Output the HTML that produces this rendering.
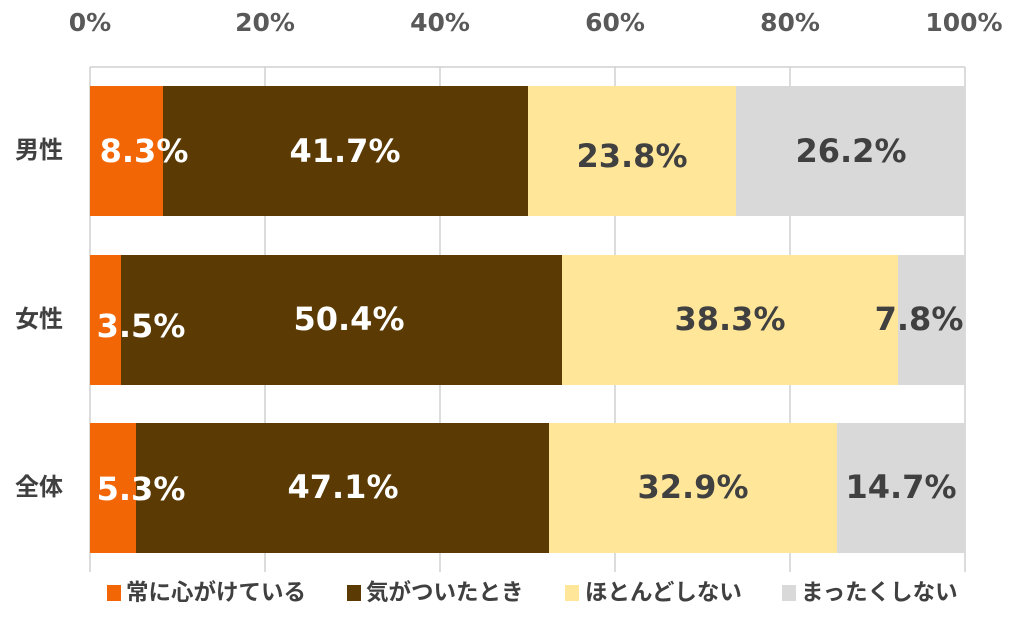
<!DOCTYPE html>
<html><head><meta charset="utf-8"><style>
html,body{margin:0;padding:0;background:#fff;}
svg{display:block;font-family:"DejaVu Sans","Noto Sans CJK JP",sans-serif;font-weight:bold;}
</style></head><body>
<svg width="1024" height="643" viewBox="0 0 1024 643">
<g stroke="#d0d0d0" stroke-width="1.5">
<line x1="90" y1="67" x2="965" y2="67"/>
<line x1="90" y1="67" x2="90" y2="572"/>
<line x1="265" y1="67" x2="265" y2="572"/>
<line x1="440" y1="67" x2="440" y2="572"/>
<line x1="615" y1="67" x2="615" y2="572"/>
<line x1="790" y1="67" x2="790" y2="572"/>
<line x1="965" y1="67" x2="965" y2="572"/>
</g>
<g font-size="25" fill="#595959" text-anchor="middle">
<text x="90" y="31">0%</text><text x="265" y="31">20%</text><text x="440" y="31">40%</text>
<text x="615" y="31">60%</text><text x="790" y="31">80%</text><text x="964" y="31">100%</text>
</g>
<g font-size="24" fill="#404040" text-anchor="end" font-family="Noto Sans CJK JP, sans-serif">
<text x="63" y="158">男性</text><text x="63" y="327">女性</text><text x="63" y="495">全体</text>
</g>
<rect x="90" y="86" width="73" height="130" fill="#f26606"/>
<rect x="163" y="86" width="365" height="130" fill="#5b3a04"/>
<rect x="528" y="86" width="208" height="130" fill="#ffe699"/>
<rect x="736" y="86" width="229" height="130" fill="#d9d9d9"/>
<rect x="90" y="255" width="31" height="130" fill="#f26606"/>
<rect x="121" y="255" width="441" height="130" fill="#5b3a04"/>
<rect x="562" y="255" width="336" height="130" fill="#ffe699"/>
<rect x="898" y="255" width="67" height="130" fill="#d9d9d9"/>
<rect x="90" y="423" width="46" height="130" fill="#f26606"/>
<rect x="136" y="423" width="413" height="130" fill="#5b3a04"/>
<rect x="549" y="423" width="288" height="130" fill="#ffe699"/>
<rect x="837" y="423" width="128" height="130" fill="#d9d9d9"/>
<g font-size="32" text-anchor="middle">
<text x="144" y="162" fill="#fff">8.3%</text>
<text x="345" y="162" fill="#fff">41.7%</text>
<text x="632" y="167" fill="#404040">23.8%</text>
<text x="851" y="162" fill="#404040">26.2%</text>
<text x="141" y="337" fill="#fff">3.5%</text>
<text x="349" y="330" fill="#fff">50.4%</text>
<text x="730" y="330" fill="#404040">38.3%</text>
<text x="919" y="330" fill="#404040">7.8%</text>
<text x="141" y="500" fill="#fff">5.3%</text>
<text x="343" y="498" fill="#fff">47.1%</text>
<text x="693" y="498" fill="#404040">32.9%</text>
<text x="901" y="498" fill="#404040">14.7%</text>
</g>
<rect x="107" y="585" width="14" height="16" fill="#f26606"/>
<rect x="347" y="585" width="14" height="16" fill="#5b3a04"/>
<rect x="565" y="585" width="14" height="16" fill="#ffe699"/>
<rect x="782" y="585" width="14" height="16" fill="#d9d9d9"/>
<g font-size="22.5" fill="#404040" font-family="Noto Sans CJK JP, sans-serif">
<text x="126" y="600">常に心がけている</text>
<text x="366" y="600">気がついたとき</text>
<text x="585" y="600">ほとんどしない</text>
<text x="801" y="600">まったくしない</text>
</g>
</svg>
</body></html>
